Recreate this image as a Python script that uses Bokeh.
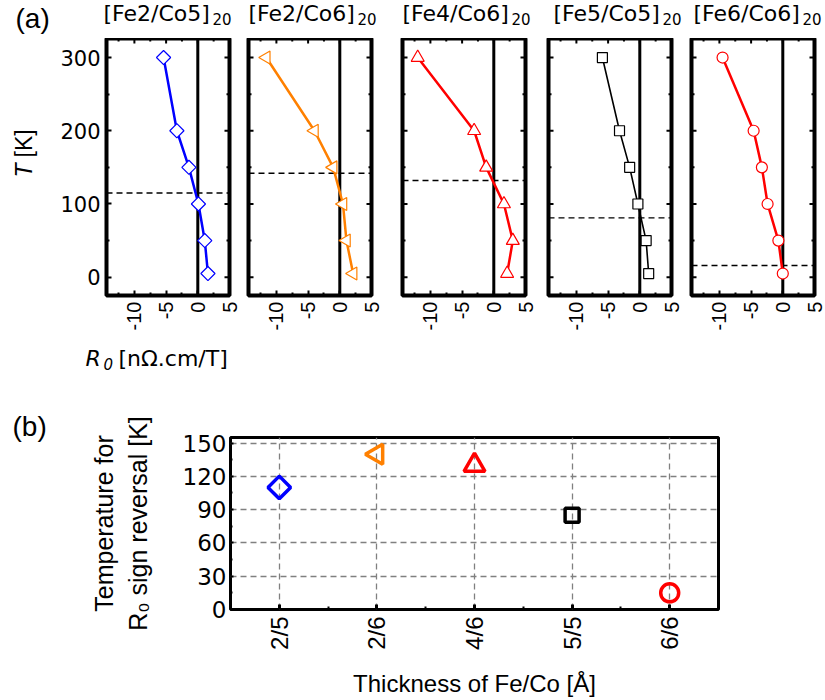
import math
from bokeh.plotting import figure
from bokeh.models import Range1d, FixedTicker, Span, Label, ColumnDataSource, Title
from bokeh.layouts import column, row
from bokeh.embed import file_html
from bokeh.resources import INLINE

# ---------------- data ----------------
T = [300, 200, 150, 100, 50, 5]
r0_fe2co5 = [-5.4, -3.3, -1.4, 0.1, 1.1, 1.6]
r0_fe2co6 = [-11.6, -4.0, -1.05, 0.5, 1.05, 2.1]
r0_fe4co6 = [-12.0, -3.1, -1.2, 1.6, 3.0, 2.1]
r0_fe5co5 = [-5.9, -3.2, -1.6, -0.3, 1.0, 1.4]
r0_fe6co6 = [-9.5, -4.6, -3.3, -2.4, -0.7, 0.0]
sample_names = ["[Fe2/Co5]", "[Fe2/Co6]", "[Fe4/Co6]", "[Fe5/Co5]", "[Fe6/Co6]"]
repetition = "20"
dashed_T = [115, 142, 132, 81, 16]

thickness_labels = ["2/5", "2/6", "4/6", "5/5", "6/6"]
reversal_T = [110, 140, 130, 85, 15]

r0_ticks = [-10, -5, 0, 5]
r0_minor = [-12.5, -7.5, -2.5, 2.5]
t_ticks = [0, 100, 200, 300]
t_minor = [50, 150, 250]
b_ticks = [0, 30, 60, 90, 120, 150]
b_minor = [15, 45, 75, 105, 135]

series = [r0_fe2co5, r0_fe2co6, r0_fe4co6, r0_fe5co5, r0_fe6co6]
colors = ["#0000ff", "#ff8000", "#ff0000", "#000000", "#ff0000"]
markers = ["square", "triangle", "triangle", "square", "circle"]
angles = [math.pi / 4, math.pi / 2, 0.0, 0.0, 0.0]
top_sizes = [10, 13, 13, 10, 11]
top_lw = [2.5, 2.5, 2.5, 1.6, 2.5]
b_sizes = [16, 20, 21, 14, 18]

SANS = "Liberation Sans"
WIDE = "DejaVu Sans"
X0, X1 = -14.4, 5.0
Y0, Y1 = -25.0, 326.0
BASE = 9  # empirical baseline correction for Label text placement

# top panels: (left border, right border)
borders = [(50, 10), (9, 15), (16, 12), (11, 10), (10, 11)]
FH, TOPB, BOTB = 257, 0, 44
title_x = [103, 248, 402, 553, 693]


def strip(w, h, top=0, bottom=0):
    s = figure(frame_width=w, frame_height=h, x_range=Range1d(0, w), y_range=Range1d(h, 0),
               min_border=0, min_border_top=top, min_border_bottom=bottom,
               x_axis_location=None, y_axis_location=None,
               toolbar_location=None, output_backend="svg")
    s.grid.visible = False
    s.outline_line_color = None
    s.background_fill_color = "white"
    s.border_fill_color = "white"
    return s


def lab(fig, x, y, text, font, size, style="normal", angle=0.0, align="left"):
    fig.add_layout(Label(x=x, y=y, text=text, text_font=font, text_font_size=size,
                         text_font_style=style, angle=angle, text_align=align,
                         text_baseline="alphabetic", text_color="black"))


def style_axis(ax, ticks, minor, font, size, standoff, orient=None):
    ax.ticker = FixedTicker(ticks=ticks, minor_ticks=minor)
    ax.axis_line_color = None
    ax.major_tick_in = 5
    ax.major_tick_out = 0
    ax.minor_tick_in = 3
    ax.minor_tick_out = 0
    ax.major_tick_line_width = 2
    ax.minor_tick_line_width = 2
    ax.major_tick_line_color = "black"
    ax.minor_tick_line_color = "black"
    ax.major_label_text_font = font
    ax.major_label_text_font_size = size
    ax.major_label_text_color = "black"
    ax.major_label_standoff = standoff
    ax.major_label_overrides = {t: str(t) for t in ticks}
    if orient is not None:
        ax.major_label_orientation = orient


def edge_ticks(p, left):
    # inward ticks on the mirrored edges (half of each dash is clipped by the frame)
    ys = t_ticks + t_minor
    sz = [10] * len(t_ticks) + [6] * len(t_minor)
    p.scatter([X1] * len(ys), ys, marker="dash", size=sz, line_color="black", line_width=2)
    if left:
        p.scatter([X0] * len(ys), ys, marker="dash", size=sz, line_color="black", line_width=2)
    xs_ = r0_ticks + r0_minor
    szx = [10] * len(r0_ticks) + [6] * len(r0_minor)
    p.scatter(xs_, [Y1] * len(xs_), marker="dash", angle=math.pi / 2, size=szx,
              line_color="black", line_width=2)


# ---------------- title strip ----------------
title_strip = strip(825, 38)
lab(title_strip, 15, 27 - BASE, "(a)", SANS, "28px")
for i in range(5):
    lab(title_strip, title_x[i], 22 - BASE, sample_names[i], WIDE, "22px")
    lab(title_strip, title_x[i] + 109, 27 - BASE, repetition, WIDE, "15px")

# ---------------- top panels ----------------
tlabel = strip(56, FH, TOPB, BOTB)
lab(tlabel, 32 - BASE, 125, "T", SANS, "23px", "italic", math.pi / 2, "right")
lab(tlabel, 32 - BASE, 119, "[K]", SANS, "23px", "normal", math.pi / 2, "left")

tops = []
for i in range(5):
    L, R = borders[i]
    p = figure(frame_width=123, frame_height=FH, min_border_left=L, min_border_right=R,
               min_border_top=TOPB, min_border_bottom=BOTB,
               x_range=Range1d(X0, X1), y_range=Range1d(Y0, Y1),
               y_axis_location="left" if i == 0 else None,
               output_backend="svg", toolbar_location=None)
    p.grid.visible = False
    p.outline_line_color = "black"
    p.outline_line_width = 4
    p.background_fill_color = "white"
    p.border_fill_color = "white"
    style_axis(p.xaxis[0], r0_ticks, r0_minor, SANS, "20px", 6, math.pi / 2)
    if i == 0:
        style_axis(p.yaxis[0], t_ticks, t_minor, WIDE, "21px", 6)
    edge_ticks(p, i != 0)

    p.add_layout(Span(location=0, dimension="height", line_color="black",
                      line_width=3, level="underlay"))
    p.add_layout(Span(location=dashed_T[i], dimension="width", line_color="black",
                      line_width=1.4, line_dash="6 4", level="underlay"))

    p.line(series[i], T, line_color=colors[i], line_width=top_lw[i])
    p.scatter(series[i], T, marker=markers[i], size=top_sizes[i], angle=angles[i],
              fill_color="white", line_color=colors[i], line_width=1.2)
    tops.append(p)

top_row = row(tlabel, *tops, spacing=0)

# ---------------- R0 label strip ----------------
r0_strip = strip(825, 46)
lab(r0_strip, 85, 28 - BASE, "R", WIDE, "22px", "italic")
lab(r0_strip, 103, 33 - BASE, "0", WIDE, "15px", "italic")
lab(r0_strip, 118, 28 - BASE, "[nΩ.cm/T]", WIDE, "22px")

# ---------------- panel (b) ----------------
xs = list(range(1, len(thickness_labels) + 1))
src = ColumnDataSource(dict(x=xs, t=reversal_T, marker=markers, angle=angles,
                            color=colors, size=b_sizes))
pb = figure(frame_width=488, frame_height=172, min_border_left=230, min_border_right=107,
            min_border_top=52, min_border_bottom=91,
            x_range=Range1d(0.5, 5.5), y_range=Range1d(0, 155),
            output_backend="svg", toolbar_location=None)
pb.outline_line_color = "black"
pb.outline_line_width = 3
pb.background_fill_color = "white"
pb.border_fill_color = "white"
pb.add_layout(Title(text="(b)", align="left", offset=-218, standoff=-8,
                    text_font=SANS, text_font_size="28px", text_font_style="normal",
                    text_color="black", vertical_align="bottom"), "above")

style_axis(pb.xaxis[0], xs, [v + 0.5 for v in xs[:-1]], SANS, "24px", 7, math.pi / 2)
pb.xaxis[0].major_label_overrides = {x: lb for x, lb in zip(xs, thickness_labels)}
pb.xaxis[0].major_tick_line_width = 3
pb.xaxis[0].axis_label = "Thickness of Fe/Co [Å]"
pb.xaxis[0].axis_label_text_font = SANS
pb.xaxis[0].axis_label_text_font_size = "24px"
pb.xaxis[0].axis_label_text_font_style = "normal"
pb.xaxis[0].axis_label_text_color = "black"
pb.xaxis[0].axis_label_standoff = 17

style_axis(pb.yaxis[0], b_ticks, b_minor, WIDE, "23px", 4)
pb.yaxis[0].major_tick_in = 3
pb.yaxis[0].minor_tick_in = 2
pb.yaxis[0].axis_label = "Temperature for\nR\u2080 sign reversal [K]"
pb.yaxis[0].axis_label_text_font = SANS
pb.yaxis[0].axis_label_text_font_size = "25px"
pb.yaxis[0].axis_label_text_font_style = "normal"
pb.yaxis[0].axis_label_text_color = "black"
pb.yaxis[0].axis_label_text_line_height = 1.2
pb.yaxis[0].axis_label_standoff = 28

pb.xgrid.ticker = FixedTicker(ticks=xs)
pb.ygrid.ticker = FixedTicker(ticks=b_ticks)
for g in (pb.xgrid[0], pb.ygrid[0]):
    g.grid_line_color = "#808080"
    g.grid_line_dash = "6 4"
    g.grid_line_width = 1.3
pb.scatter("x", "t", marker="marker", angle="angle", size="size", source=src,
           fill_color=None, line_color="color", line_width=3.5)

page = column(title_strip, top_row, r0_strip, row(pb), spacing=0)
open("out.html", "w").write(file_html(page, INLINE))
